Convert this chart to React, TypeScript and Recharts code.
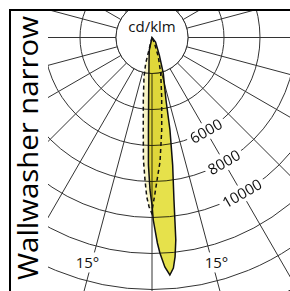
import { RadarChart, Radar, PolarGrid, PolarAngleAxis, PolarRadiusAxis } from "recharts";

// contour of the filled curve: angle from nadir (deg), intensity (cd/klm)
const solidAngles = [-20, -12.2, -6.7, -3.6, -2.2, -1.6, -0.75, 0, 0.4, 0.9, 1.5, 2.1, 3.2, 4.3, 5.3, 6.0, 6.7, 7.1, 7.7, 9.2, 11.0, 12.6, 17.5, 22.6, 38, 45];
const solidValues = [0, 710, 1430, 2920, 5140, 7080, 8470, 9300, 10140, 10690, 11420, 11980, 12770, 13230, 12860, 12260, 11330, 10330, 9110, 7180, 5230, 3560, 2080, 1060, 320, 0];

// contour of the dashed curve
const dashedAngles = [-30, -13.7, -11.5, -7.9, -5.4, -4.0, -2.8, -1.9, -1.0, -0.1, 0.45, 1.1, 2.3, 3.7, 6.0, 9.3, 13.7, 18.2, 24, 30];
const dashedValues = [0, 1480, 2220, 3510, 5160, 6820, 7930, 8850, 9400, 9750, 9210, 8660, 7740, 6920, 5170, 3330, 2040, 1120, 330, 0];

const radiusTicks = [0, 2000, 4000, 6000, 8000, 10000, 12000, 14000, 16000];
const labelledTicks = [6000, 8000, 10000];
const angleTicks = [-165, -150, -135, -120, -105, -90, -75, -60, -45, -30, -15, 0, 15, 30, 45, 60, 75, 90, 105, 120, 135, 150, 165, 180];
const angleLabels = ["15°", "15°"];
const angleLabelAt = [-15, 15];

const W = 290, H = 291;
const CX = 152, CY = 37.5;
const R_MAX = 16000;
const OUTER = 288;
const CLIP_X = 48, CLIP_Y = 11;
const FONT = "'Open Sans', 'DejaVu Sans', sans-serif";

const rows = [
  ...solidAngles.map((a, i) => ({ angle: a, solid: solidValues[i] })),
  ...dashedAngles.map((a, i) => ({ angle: a, dashed: dashedValues[i] })),
];

const polar = (deg: number, v: number) => {
  const r = (v / R_MAX) * OUTER;
  const t = (deg * Math.PI) / 180;
  return { x: CX + r * Math.sin(t), y: CY + r * Math.cos(t) };
};

function RadiusLabel(props: any) {
  const { x, y, payload } = props;
  if (!labelledTicks.includes(payload?.value)) return <g />;
  const txt = String(payload.value);
  const w = txt.length * 8.8 + 6;
  return (
    <g transform={`translate(${x},${y}) rotate(-30)`}>
      <rect x={-w / 2} y={-9} width={w} height={18} fill="#fff" />
      <text x={0} y={0} dy="0.36em" textAnchor="middle" fontSize={15} fontFamily={FONT} fill="#111">{txt}</text>
    </g>
  );
}

const multiply = { mixBlendMode: "multiply" as const };

export default function App() {
  const innerR = (2000 / R_MAX) * OUTER;
  return (
    <div style={{ position: "absolute", left: 0, top: 0, width: W, height: H, background: "#fff", overflow: "hidden" }}>
      <div style={{ position: "absolute", left: CLIP_X, top: CLIP_Y, width: W - CLIP_X, height: H - CLIP_Y, overflow: "hidden", isolation: "isolate", background: "#fff" }}>
        <RadarChart
          width={W - CLIP_X}
          height={H - CLIP_Y}
          data={rows}
          cx={CX - CLIP_X}
          cy={CY - CLIP_Y}
          innerRadius={0}
          outerRadius={OUTER}
          startAngle={-270}
          endAngle={90}
          margin={{ top: 0, right: 0, bottom: 0, left: 0 }}
        >
          <PolarAngleAxis type="number" dataKey="angle" domain={[-180, 180]} ticks={angleTicks} tick={false} axisLine={false} tickLine={false} />
          <PolarGrid gridType="circle" stroke="#333" strokeWidth={1} />
          <circle cx={CX - CLIP_X} cy={CY - CLIP_Y} r={innerR} fill="#fff" stroke="#333" strokeWidth={1} />
          <Radar dataKey="dashed" fill="#f8f4c4" fillOpacity={1} stroke="none" style={multiply} connectNulls isAnimationActive={false} />
          <Radar dataKey="solid" fill="#e6e14b" fillOpacity={1} stroke="none" style={multiply} connectNulls isAnimationActive={false} />
          <Radar dataKey="solid" fill="none" fillOpacity={0} stroke="#111" strokeWidth={1.5} connectNulls isAnimationActive={false} />
          <Radar dataKey="dashed" fill="none" fillOpacity={0} stroke="#111" strokeWidth={1.5} strokeDasharray="4 3" connectNulls isAnimationActive={false} />
          <PolarRadiusAxis type="number" domain={[0, R_MAX]} ticks={radiusTicks} tickCount={9} angle={-60} axisLine={false} tickLine={false} tick={RadiusLabel} />
        </RadarChart>
      </div>
      <svg width={W} height={H} style={{ position: "absolute", left: 0, top: 0, pointerEvents: "none" }}>
        <rect x={9} y={9} width={W - 9} height={2} fill="#000" />
        <rect x={9} y={9} width={2} height={H - 9} fill="#000" />
        <text transform="translate(38,280) rotate(-90)" fontSize={28} fontFamily={FONT} textLength={264} lengthAdjust="spacingAndGlyphs" fill="#000">
          Wallwasher narrow
        </text>
        <text x={CX} y={31.5} textAnchor="middle" fontSize={15} fontFamily={FONT} fill="#111">cd/klm</text>
        {angleLabelAt.map((a, i) => {
          const p = polar(a + Math.sign(a), 13000);
          return (
            <g key={i}>
              <rect x={p.x - 13} y={p.y - 10} width={26} height={20} fill="#fff" />
              <text x={p.x} y={p.y} dy="0.36em" textAnchor="middle" fontSize={15} fontFamily={FONT} fill="#111">{angleLabels[i]}</text>
            </g>
          );
        })}
      </svg>
    </div>
  );
}
